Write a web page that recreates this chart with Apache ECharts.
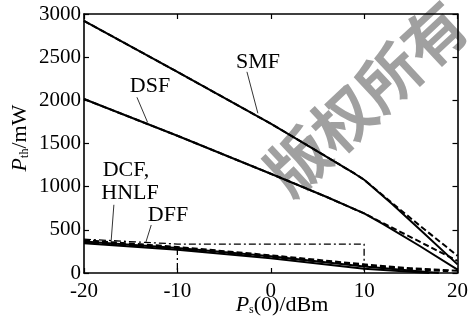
<!DOCTYPE html>
<html><head><meta charset="utf-8">
<script src="https://cdn.jsdelivr.net/npm/echarts@6/dist/echarts.min.js"></script>
<style>html,body{margin:0;padding:0;background:#fff}#c{width:471px;height:324px}</style>
</head><body><div id="c"></div>
<script>
// Data (x = Ps(0) in dBm, y = Pth in mW)
const xTicks = [-20, -10, 0, 10, 20];
const yTicks = [0, 500, 1000, 1500, 2000, 2500, 3000];
const smfSolid  = [[-20,2920],[-10,2330],[0,1730],[5,1410],[9,1150],[10,1080],[13,800],[16,500],[20,100]];
const smfDashed = [[-20,2920],[-10,2330],[0,1730],[5,1410],[9,1150],[10,1080],[13,810],[16,545],[20,200]];
const dsfSolid  = [[-20,2015],[-10,1590],[0,1150],[6,880],[10,690],[12,570],[16,310],[20,40]];
const dsfDashed = [[-20,2015],[-10,1590],[0,1150],[6,880],[10,690],[12,580],[16,360],[20,140]];
const dcfSolid  = [[-20,365],[-10,290],[0,195],[10,75],[18,0]];
const dcfDashed = [[-20,380],[-10,302],[0,205],[10,100],[15,55],[20,25]];
const hnlfSolid = [[-20,345],[-10,268],[0,172],[10,50],[17,0]];
const dffDashed = [[-20,355],[-10,282],[0,185],[10,88],[15,45],[19,20]];
const boxTop    = [[-20,392],[-10,335],[10,335],[10,0]];
const boxLeft   = [[-10,290],[-10,0]];
// annotation arrows (label -> curve)
const arrowSMF  = [[-2.55,2330],[-1.38,1850]];
const arrowDSF  = [[-14.33,2035],[-13.19,1745]];
const arrowHNLF = [[-16.8,790],[-17.1,362]];
const arrowDFF  = [[-12.8,556],[-13.4,348]];

const serif = "Liberation Serif";
const chart = echarts.init(document.getElementById('c'));
function line(data, type, w) {
  return {type:'line', data, symbol:'none', silent:true, z:3,
    lineStyle:{color:'#000', width:w||2, type:type||'solid'}};
}
const axisCommon = {type:'value', axisLine:{show:true,onZero:false,lineStyle:{color:'#000',width:1.6}},
  axisTick:{show:true,inside:true,length:5,lineStyle:{color:'#000',width:1.2}}, splitLine:{show:false}};
const richName = {
  i:{fontFamily:serif,fontStyle:'italic',fontSize:22,fill:'#000'},
  s:{fontFamily:serif,fontSize:12,fill:'#000',verticalAlign:'bottom',padding:[10,0,0,0]},
  n:{fontFamily:serif,fontSize:22,fill:'#000'}
};
function txt(text, x, y) {
  return {type:'text', x, y, z:10, style:{text, fontFamily:serif, fontSize:22, fill:'#000', align:'center', verticalAlign:'middle'}};
}
const tickLabel = {color:'#000', fontFamily:serif, fontSize:21, formatter:v=>String(v)};
chart.setOption({
  animation:false,
  backgroundColor:'#fff',
  textStyle:{fontFamily:serif},
  grid:{left:84,right:11,top:14,bottom:51,containLabel:false},
  xAxis:[
    Object.assign({}, axisCommon, {position:'bottom', min:xTicks[0], max:xTicks[xTicks.length-1], interval:10,
      axisLabel:Object.assign({margin:8}, tickLabel)}),
    Object.assign({}, axisCommon, {position:'top', min:xTicks[0], max:xTicks[xTicks.length-1], interval:10,
      axisLabel:{show:false}})
  ],
  yAxis:[
    Object.assign({}, axisCommon, {position:'left', min:yTicks[0], max:yTicks[yTicks.length-1], interval:500,
      axisLabel:Object.assign({margin:3}, tickLabel)}),
    Object.assign({}, axisCommon, {position:'right', min:yTicks[0], max:yTicks[yTicks.length-1], interval:500,
      axisLabel:{show:false}})
  ],
  series:[
    line(smfDashed,[6,3]), line(smfSolid),
    line(dsfDashed,[6,3]), line(dsfSolid),
    line(dcfDashed,[6,3]), line(dffDashed,[6,3]),
    line(dcfSolid), line(hnlfSolid),
    line(boxTop,[7,3,2,3],1.3), line(boxLeft,[7,3,2,3],1.3),
    line(arrowSMF,'solid',0.8), line(arrowDSF,'solid',0.8),
    line(arrowHNLF,'solid',0.8), line(arrowDFF,'solid',0.8)
  ],
  graphic:[
    {type:'text', x:366, y:98, rotation:0.75, z:0, silent:true,
     style:{text:'版权所有', fill:'#a0a0a0', fontFamily:'Noto Sans CJK SC', fontWeight:'bold', fontSize:62, align:'center', verticalAlign:'middle'}},
    txt('SMF',258,62), txt('DSF',150,86), txt('DCF,',126,170), txt('HNLF',130,193), txt('DFF',168,215),
    {type:'text', x:282, y:305, z:10,
     style:{text:'{i|P}{s|s}{n|(0)/dBm}', align:'center', verticalAlign:'middle', rich:richName}},
    {type:'text', x:20, y:138, rotation:Math.PI/2, z:10,
     style:{text:'{i|P}{s|th}{n|/mW}', align:'center', verticalAlign:'middle', rich:richName}}
  ]
});
</script></body></html>
